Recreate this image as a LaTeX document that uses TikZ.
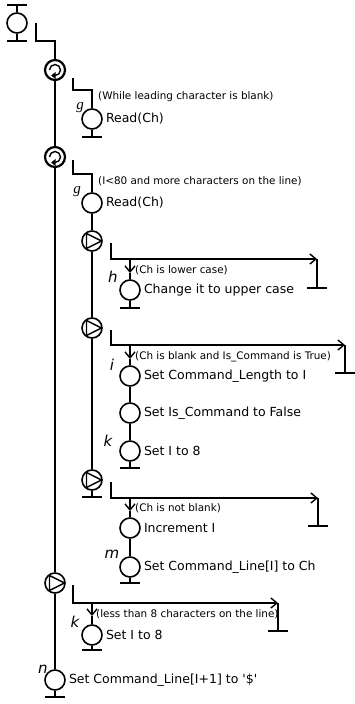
\documentclass[tikz,border=0pt]{standalone}
\usepackage{fontspec}
\setmainfont{DejaVu Sans}
\newfontfamily\serifit{Liberation Serif}
\usetikzlibrary{arrows.meta,calc}
\begin{document}
\begin{tikzpicture}[x=1pt,y=-1pt,
  ln/.style={line width=1.6pt},
  proc/.style={circle,draw,line width=1.6pt,minimum size=20pt,inner sep=0pt},
  loopc/.style={circle,draw,line width=2.2pt,minimum size=20pt,inner sep=0pt},
  pumpc/.style={circle,draw,line width=1.6pt,minimum size=20pt,inner sep=0pt},
  txt/.style={anchor=west,inner sep=0pt,font=\fontsize{12.5}{14}\selectfont},
  cond/.style={anchor=west,inner sep=0pt,font=\fontsize{10.4}{12}\selectfont},
  lbl/.style={inner sep=0pt,font=\fontsize{15}{16}\selectfont\itshape},
  darr/.style={ln,-{Straight Barb[length=6pt,width=10pt,line width=1.4pt]}}
]
\useasboundingbox (0,0) rectangle (354,704);
\newcommand{\tbar}[1]{\draw[ln] ($(#1)+(-10,0)$) -- ($(#1)+(10,0)$);}
\newcommand{\loopicon}[1]{\draw[line width=1.4pt] ($(#1)+(-5.5,0)$) arc[start angle=180,end angle=450,radius=5.5];
  \fill ($(#1)+(0,5.5)$) ++(-3.8,0) -- ++(4.3,-3.5) -- ++(0,7) -- cycle;}
\newcommand{\pumpicon}[1]{\draw[line width=1.4pt,line join=round] ($(#1)+(-5.5,-7.5)$) -- ($(#1)+(9.5,0)$) -- ($(#1)+(-5.5,7.5)$) -- cycle;}

% start
\node[proc] (s0) at (17,23) {};
\coordinate (s0t) at (17,5);
\coordinate (s0b) at (17,41);
\draw[ln] (s0t) -- (s0) -- (s0b);
\tbar{s0t}\tbar{s0b}

% main column
\node[loopc] (loop1) at (55,70) {};
\node[loopc] (loop2) at (55,157) {};
\node[pumpc] (pump4) at (55,583) {};
\node[proc] (nN) at (55,680) {};
\coordinate (bN) at (55,697);
\loopicon{loop1}\loopicon{loop2}\pumpicon{pump4}
\draw[ln] (loop1) -- (loop2) -- (pump4) -- (nN) -- (bN);
\tbar{bN}
\coordinate (s1a) at (36,23);
\coordinate (s1b) at (36,41);
\coordinate (s1c) at (55,41);
\draw[ln] (s1a) -- (s1b) -- (s1c) -- (loop1);
\node[lbl] (ln) at (43,669) {n};
\node[txt] (tN) at ([xshift=3pt]nN.east) {Set Command\_Line[I+1] to \textquotesingle\$\textquotesingle};

% loop 1 body
\coordinate (c2a) at (73,78);
\coordinate (c2b) at (73,90);
\coordinate (c2c) at (92,90);
\node[proc] (read1) at (92,119) {};
\coordinate (b1) at (92,137);
\draw[ln] (c2a) -- (c2b) -- (c2c) -- (read1) -- (b1);
\tbar{b1}
\node[cond] (cd1) at (98,97) {(While leading character is blank)};
\node[lbl] (lg1) at (80,108) {\serifit\itshape g};
\node[txt] (t1) at ([xshift=3pt]read1.east) {Read(Ch)};

% loop 2 body
\coordinate (c3a) at (73,160);
\coordinate (c3b) at (73,174);
\coordinate (c3c) at (92,174);
\node[proc] (read2) at (92,203) {};
\draw[ln] (c3a) -- (c3b) -- (c3c) -- (read2);
\node[cond] (cd2) at (98,181) {(I<80 and more characters on the line)};
\node[lbl] (lg2) at (77,192) {\serifit\itshape g};
\node[txt] (t2) at ([xshift=3pt]read2.east) {Read(Ch)};
\node[pumpc] (pump1) at (92,241) {};
\node[pumpc] (pump2) at (92,328) {};
\node[pumpc] (pump3) at (92,480) {};
\coordinate (b3) at (92,497);
\pumpicon{pump1}\pumpicon{pump2}\pumpicon{pump3}
\draw[ln] (read2) -- (pump1) -- (pump2) -- (pump3) -- (b3);
\tbar{b3}

% pump 1
\coordinate (p1a) at (111,243);
\coordinate (p1b) at (111,259);
\coordinate (p1c) at (317,259);
\coordinate (p1d) at (317,288);
\coordinate (p1e) at (130,259);
\coordinate (p1f) at (130,273);
\draw[darr] (p1a) -- (p1b) -- (p1c);
\draw[ln] (p1c) -- (p1d);
\tbar{p1d}
\node[proc] (h1) at (130,290) {};
\coordinate (bh) at (130,308);
\draw[darr] (p1e) -- (p1f);
\draw[ln] (p1f) -- (h1) -- (bh);
\tbar{bh}
\node[cond] (cd3) at (135,270) {(Ch is lower case)};
\node[lbl] (lh) at (113,277) {h};
\node[txt] (th) at ([xshift=3pt]h1.east) {Change it to upper case};

% pump 2
\coordinate (p2a) at (111,330);
\coordinate (p2b) at (111,345);
\coordinate (p2c) at (345,345);
\coordinate (p2d) at (345,373);
\coordinate (p2e) at (130,345);
\coordinate (p2f) at (130,359);
\draw[darr] (p2a) -- (p2b) -- (p2c);
\draw[ln] (p2c) -- (p2d);
\tbar{p2d}
\node[proc] (i1) at (130,376) {};
\node[proc] (i2) at (130,413) {};
\node[proc] (i3) at (130,451) {};
\coordinate (bi) at (130,468);
\draw[darr] (p2e) -- (p2f);
\draw[ln] (p2f) -- (i1) -- (i2) -- (i3) -- (bi);
\tbar{bi}
\node[cond] (cd4) at (135,357) {(Ch is blank and Is\_Command is True)};
\node[lbl] (li) at (112,365) {i};
\node[lbl] (lk1) at (108,441) {k};
\node[txt] (ti1) at ([xshift=3pt]i1.east) {Set Command\_Length to I};
\node[txt] (ti2) at ([xshift=3pt]i2.east) {Set Is\_Command to False};
\node[txt] (ti3) at ([xshift=3pt]i3.east) {Set I to 8};

% pump 3
\coordinate (p3a) at (111,482);
\coordinate (p3b) at (111,498);
\coordinate (p3c) at (318,498);
\coordinate (p3d) at (318,526);
\coordinate (p3e) at (130,498);
\coordinate (p3f) at (130,511);
\draw[darr] (p3a) -- (p3b) -- (p3c);
\draw[ln] (p3c) -- (p3d);
\tbar{p3d}
\node[proc] (m1) at (130,528) {};
\node[proc] (m2) at (130,567) {};
\coordinate (bm) at (130,583);
\draw[darr] (p3e) -- (p3f);
\draw[ln] (p3f) -- (m1) -- (m2) -- (bm);
\tbar{bm}
\node[cond] (cd5) at (135,508) {(Ch is not blank)};
\node[lbl] (lm) at (112,554) {m};
\node[txt] (tm1) at ([xshift=3pt]m1.east) {Increment I};
\node[txt] (tm2) at ([xshift=3pt]m2.east) {Set Command\_Line[I] to Ch};

% pump 4
\coordinate (p4a) at (73,585);
\coordinate (p4b) at (73,603);
\coordinate (p4c) at (278,603);
\coordinate (p4d) at (278,631);
\coordinate (p4e) at (92,603);
\coordinate (p4f) at (92,616);
\draw[darr] (p4a) -- (p4b) -- (p4c);
\draw[ln] (p4c) -- (p4d);
\tbar{p4d}
\node[proc] (e1) at (92,635) {};
\coordinate (be) at (92,650);
\draw[darr] (p4e) -- (p4f);
\draw[ln] (p4f) -- (e1) -- (be);
\tbar{be}
\node[cond] (cd6) at (96,614) {(less than 8 characters on the line)};
\node[lbl] (lk2) at (75,622) {k};
\node[txt] (te) at ([xshift=3pt]e1.east) {Set I to 8};
\end{tikzpicture}
\end{document}
